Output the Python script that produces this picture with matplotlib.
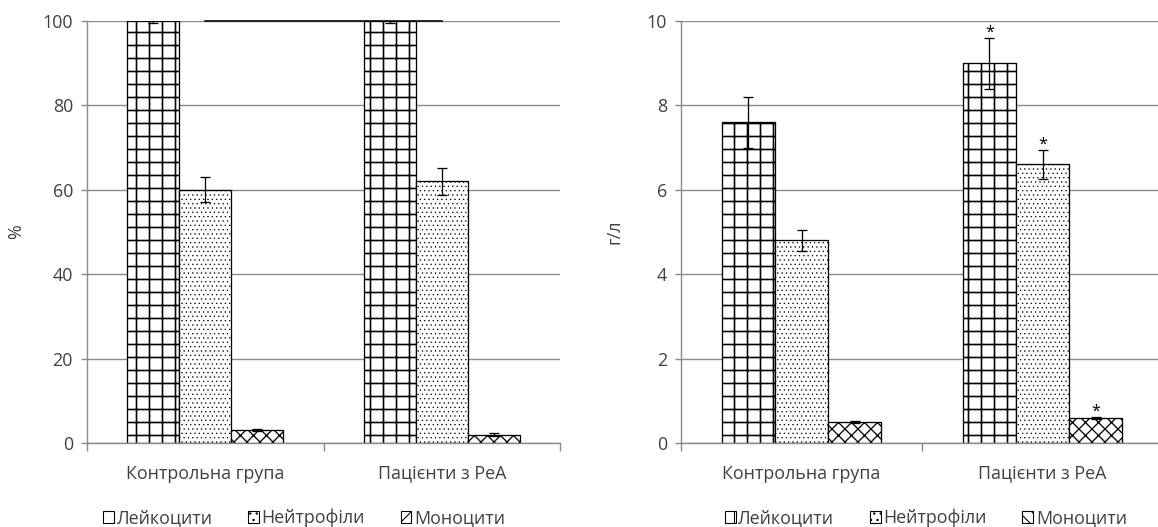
import matplotlib
matplotlib.use("Agg")
import matplotlib.pyplot as plt
from matplotlib.patches import Patch
import numpy as np

groups = ["Контрольна група", "Пацієнти з РеА"]
series = ["Лейкоцити", "Нейтрофіли", "Моноцити"]

# Left panel (%)
pct_values = {"Лейкоцити": [100, 100], "Нейтрофіли": [60, 62], "Моноцити": [3, 2]}
pct_errors = {"Лейкоцити": [0.4, 0.4], "Нейтрофіли": [3, 3.2], "Моноцити": [0.2, 0.3]}

# Right panel (г/л)
abs_values = {"Лейкоцити": [7.6, 9.0], "Нейтрофіли": [4.8, 6.6], "Моноцити": [0.5, 0.6]}
abs_errors = {"Лейкоцити": [0.6, 0.6], "Нейтрофіли": [0.25, 0.35], "Моноцити": [0.03, 0.02]}
abs_stars = {"Лейкоцити": [False, True], "Нейтрофіли": [False, True], "Моноцити": [False, True]}

DPI = 78
W, H = 1158, 527
plt.rcParams['font.family'] = ['Open Sans', 'DejaVu Sans']
fig = plt.figure(figsize=(W / DPI, H / DPI), dpi=DPI)

hatches = {"Лейкоцити": "+", "Нейтрофіли": "...", "Моноцити": "xx"}
hatch_lw = {"Лейкоцити": 1.5, "Нейтрофіли": 0.5, "Моноцити": 1.2}
offsets = [-0.22, 0.0, 0.22]
bw = 0.22
gray = "#8a8a8a"
txt = "#404040"
fs = 16.5

def setup(ax, ylim, yticks, ylabel):
    ax.set_xlim(-0.5, 1.5)
    ax.set_ylim(*ylim)
    ax.set_yticks(yticks)
    ax.yaxis.grid(True, color=gray, lw=1.3)
    ax.set_axisbelow(True)
    for s in ["top", "right"]:
        ax.spines[s].set_visible(False)
    for s in ["left", "bottom"]:
        ax.spines[s].set_color(gray)
        ax.spines[s].set_linewidth(1.3)
    ax.tick_params(axis="y", colors=gray, labelcolor=txt, labelsize=fs, length=6, width=1.3, pad=7)
    ax.set_xticks([-0.5, 0.5, 1.5])
    ax.set_xticklabels([])
    ax.tick_params(axis="x", which="major", colors=gray, length=7, width=1.3)
    ax.set_xticks([0, 1], minor=True)
    ax.set_xticklabels(groups, minor=True)
    ax.tick_params(axis="x", which="minor", length=0, labelsize=fs, labelcolor=txt, pad=20)
    ax.set_ylabel(ylabel, fontsize=fs, color=txt)

def draw_bars(ax, xs, vals, s):
    with plt.rc_context({"hatch.linewidth": hatch_lw[s]}):
        bars = ax.bar(xs, vals, bw, color="white", edgecolor="black",
                      hatch=hatches[s], lw=1.2, zorder=2)
        for b in bars:
            try:
                b.set_hatch_linewidth(hatch_lw[s])
            except Exception:
                pass
    return bars

x = np.arange(len(groups))

# Left
ax1 = fig.add_axes([87 / W, 1 - 443 / H, 473 / W, 422 / H])
setup(ax1, (0, 100), [0, 20, 40, 60, 80, 100], "%")
ax1.yaxis.set_label_coords(-0.13, 0.5)
for i, s in enumerate(series):
    draw_bars(ax1, x + offsets[i], pct_values[s], s)
    ax1.errorbar(x + offsets[i], pct_values[s], yerr=pct_errors[s], fmt="none",
                 ecolor="black", elinewidth=1.2, capsize=5, capthick=1.2, zorder=3)
ax1.plot(x, [pct_values["Лейкоцити"][0], pct_values["Лейкоцити"][1]], color="black", lw=1.5, zorder=3, clip_on=False)

# Right
ax2 = fig.add_axes([681 / W, 1 - 443 / H, 482 / W, 422 / H])
setup(ax2, (0, 10), [0, 2, 4, 6, 8, 10], "г/л")
ax2.yaxis.set_label_coords(-0.12, 0.5)
for i, s in enumerate(series):
    draw_bars(ax2, x + offsets[i], abs_values[s], s)
    ax2.errorbar(x + offsets[i], abs_values[s], yerr=abs_errors[s], fmt="none",
                 ecolor="black", elinewidth=1.2, capsize=5, capthick=1.2, zorder=3)
    for j in range(len(groups)):
        if abs_stars[s][j]:
            ax2.text(x[j] + offsets[i], abs_values[s][j] + abs_errors[s][j] + 0.03, "*",
                     ha="center", va="baseline", fontsize=15, color="black")

leg_kw = dict(loc="center", ncol=3, frameon=False, fontsize=fs, handlelength=0.6,
              handleheight=0.6, handletextpad=0.15, columnspacing=2.0, labelcolor=txt)
with plt.rc_context({"hatch.linewidth": 1.0}):
    h1 = [Patch(facecolor="white", edgecolor="black", lw=1.0, hatch=h) for h in ["", "..", "//"]]
    h2 = [Patch(facecolor="white", edgecolor="black", lw=1.0, hatch=h) for h in ["|", "..", "\\\\"]]
ax1.legend(h1, series, bbox_to_anchor=(0.459, -0.178), **leg_kw)
ax2.legend(h2, series, bbox_to_anchor=(0.508, -0.178), **leg_kw)

fig.savefig("out.png", dpi=DPI)
